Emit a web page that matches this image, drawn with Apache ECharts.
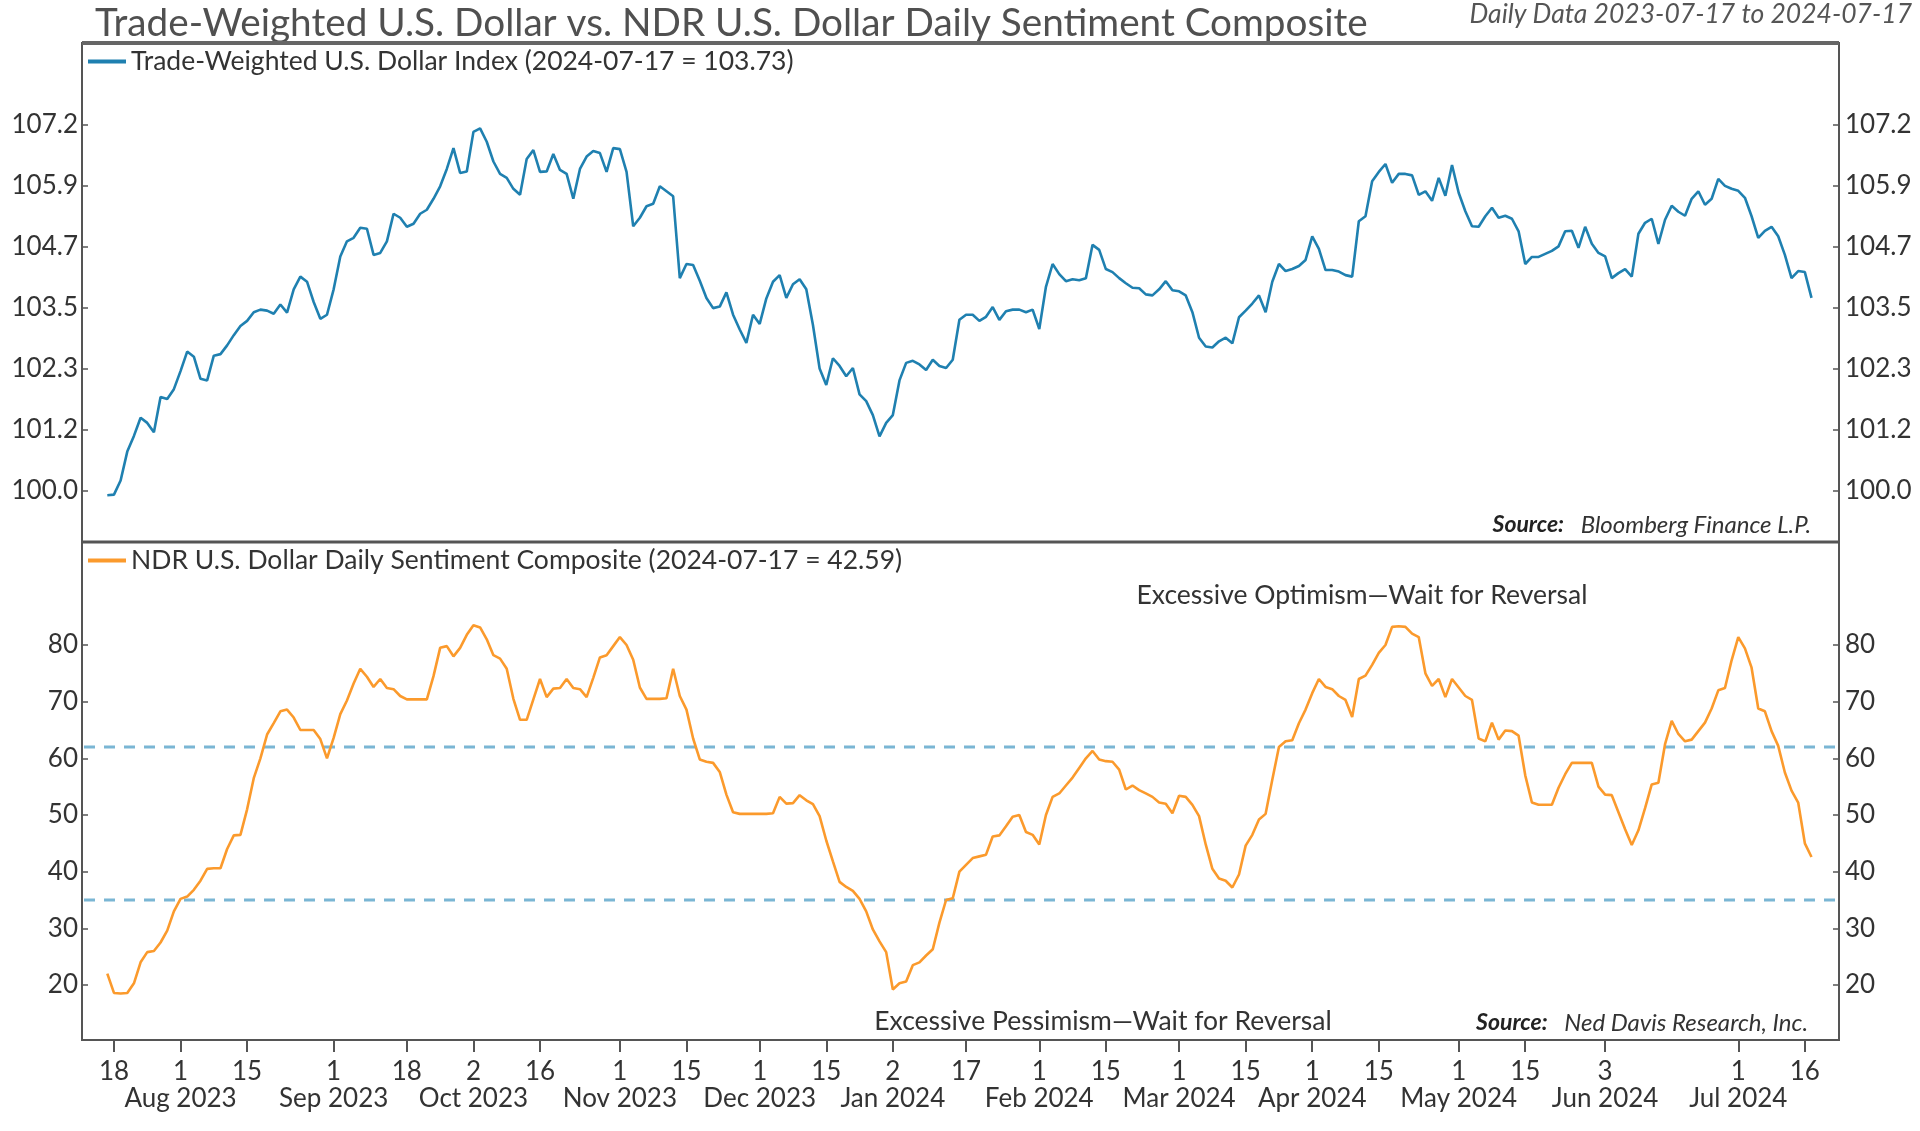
<!DOCTYPE html>
<html><head><meta charset="utf-8">
<script src="https://cdn.jsdelivr.net/npm/echarts@6/dist/echarts.min.js"></script>
<style>html,body{margin:0;padding:0;background:#fff}#c{width:1920px;height:1131px}</style>
</head><body><div id="c"></div><script>
// ---------- data ----------
const startDate = '2023-07-17';
const endDate = '2024-07-17';
const holidays = ['2023-11-23','2023-12-25','2024-01-01','2024-03-29','2024-05-27','2024-07-04'];
const tickDates = ['2023-07-18','2023-08-01','2023-08-15','2023-09-01','2023-09-18','2023-10-02','2023-10-16','2023-11-01','2023-11-15','2023-12-01','2023-12-15','2024-01-02','2024-01-17','2024-02-01','2024-02-15','2024-03-01','2024-03-15','2024-04-01','2024-04-15','2024-05-01','2024-05-15','2024-06-03','2024-07-01','2024-07-16'];
const monthTickDates = ['2023-08-01','2023-09-01','2023-10-02','2023-11-01','2023-12-01','2024-01-02','2024-02-01','2024-03-01','2024-04-01','2024-05-01','2024-06-03','2024-07-01'];
const monthNames = ['Jan','Feb','Mar','Apr','May','Jun','Jul','Aug','Sep','Oct','Nov','Dec'];
const dollarIndex = [
99.92,99.93,100.20,100.75,101.05,101.40,101.30,101.12,101.80,101.76,
101.95,102.30,102.68,102.58,102.15,102.12,102.60,102.63,102.80,103.00,
103.18,103.28,103.45,103.50,103.48,103.42,103.60,103.44,103.90,104.15,
104.05,103.65,103.32,103.40,103.90,104.55,104.85,104.92,105.12,105.10,
104.58,104.62,104.85,105.40,105.32,105.14,105.20,105.40,105.48,105.70,
105.95,106.30,106.72,106.22,106.25,107.05,107.12,106.85,106.45,106.20,
106.12,105.90,105.78,106.50,106.68,106.24,106.25,106.60,106.28,106.20,
105.70,106.30,106.55,106.66,106.62,106.24,106.72,106.70,106.24,105.15,
105.32,105.55,105.60,105.95,105.85,105.75,104.12,104.40,104.38,104.07,
103.73,103.53,103.56,103.84,103.40,103.11,102.85,103.40,103.22,103.72,
104.05,104.18,103.73,104.00,104.10,103.90,103.20,102.35,102.03,102.55,
102.40,102.20,102.36,101.85,101.72,101.45,101.04,101.30,101.45,102.12,
102.46,102.50,102.43,102.32,102.52,102.40,102.36,102.52,103.30,103.40,
103.40,103.28,103.36,103.55,103.30,103.47,103.50,103.50,103.45,103.50,
103.12,103.95,104.40,104.20,104.06,104.10,104.08,104.12,104.78,104.68,
104.30,104.24,104.12,104.02,103.93,103.92,103.80,103.78,103.90,104.06,
103.88,103.86,103.78,103.45,102.95,102.78,102.76,102.88,102.95,102.84,
103.35,103.48,103.62,103.78,103.45,104.05,104.40,104.26,104.30,104.36,
104.48,104.95,104.70,104.28,104.28,104.25,104.18,104.15,105.25,105.35,
106.05,106.24,106.40,106.02,106.20,106.20,106.17,105.78,105.85,105.66,
106.12,105.76,106.38,105.82,105.45,105.15,105.14,105.35,105.52,105.32,
105.36,105.30,105.05,104.40,104.54,104.54,104.60,104.66,104.75,105.05,
105.06,104.72,105.14,104.80,104.62,104.55,104.12,104.22,104.30,104.15,
105.00,105.22,105.30,104.80,105.28,105.56,105.44,105.36,105.70,105.85,
105.58,105.70,106.10,105.96,105.90,105.86,105.72,105.35,104.92,105.06,
105.14,104.95,104.58,104.12,104.26,104.24,103.73];
const sentiment = [
22.0,18.6,18.5,18.6,20.3,24.0,25.8,26.0,27.5,29.6,
33.0,35.2,35.6,36.8,38.4,40.5,40.6,40.6,44.0,46.4,
46.5,51.0,56.5,60.0,64.2,66.2,68.3,68.6,67.2,65.0,
65.0,65.0,63.4,60.0,63.6,67.8,70.2,73.2,75.8,74.4,
72.6,74.0,72.4,72.2,71.0,70.4,70.4,70.4,70.4,74.5,
79.5,79.8,78.0,79.5,81.8,83.5,83.1,81.0,78.2,77.6,
75.8,70.5,66.8,66.8,70.4,74.0,70.8,72.3,72.4,74.0,
72.4,72.2,70.8,74.2,77.8,78.2,79.8,81.4,80.0,77.4,
72.5,70.5,70.5,70.5,70.6,75.8,71.0,68.6,63.5,59.8,
59.4,59.2,57.6,53.6,50.5,50.2,50.2,50.2,50.2,50.2,
50.3,53.2,52.0,52.1,53.5,52.6,51.9,49.8,45.5,41.8,
38.2,37.3,36.6,35.2,33.0,29.8,27.7,25.8,19.2,20.3,
20.6,23.5,24.0,25.2,26.3,31.0,35.0,35.3,40.0,41.2,
42.4,42.7,43.0,46.2,46.4,48.0,49.7,50.0,47.0,46.5,
44.8,50.0,53.2,53.8,55.2,56.6,58.3,60.0,61.3,59.8,
59.5,59.4,58.0,54.5,55.2,54.4,53.8,53.2,52.2,52.0,
50.3,53.4,53.2,51.8,49.8,44.8,40.5,38.8,38.4,37.2,
39.5,44.6,46.5,49.2,50.2,56.2,62.0,63.0,63.2,66.2,
68.6,71.5,74.0,72.6,72.2,71.0,70.3,67.3,74.0,74.6,
76.5,78.6,80.0,83.2,83.3,83.2,82.0,81.4,75.0,72.8,
74.0,70.8,74.0,72.5,71.0,70.3,63.5,63.0,66.3,63.3,
64.9,64.8,64.0,57.0,52.2,51.8,51.8,51.8,54.8,57.2,
59.2,59.2,59.2,59.2,55.0,53.6,53.5,50.5,47.5,44.7,
47.3,51.2,55.4,55.7,62.5,66.6,64.3,63.0,63.3,64.8,
66.3,68.8,72.0,72.4,77.3,81.4,79.4,76.0,68.8,68.3,
64.8,62.2,57.5,54.3,52.2,45.0,42.59];
const topTickLabels = ['100.0','101.2','102.3','103.5','104.7','105.9','107.2'];
const thresholds = [62, 35];

// ---------- build categories (trading days) ----------
function fmt(d){return d.toISOString().slice(0,10);}
const dates = [];
(function(){
  const s = new Date(startDate+'T00:00:00Z'), e = new Date(endDate+'T00:00:00Z');
  for (let d = new Date(s); d <= e; d.setUTCDate(d.getUTCDate()+1)) {
    const wd = d.getUTCDay();
    const k = fmt(d);
    if (wd === 0 || wd === 6 || holidays.indexOf(k) >= 0) continue;
    dates.push(k);
  }
})();
const tickSet = new Set(tickDates);
const monthSet = new Set(monthTickDates);

const FONT = 'Lato';
const TXT = '#333';
const BLUE = '#1f80b0';
const ORANGE = '#fb9a2c';
const DASH = '#7ab6d4';
const FS = 26;
const FSL = 26.5;

// log axis: 100 is an exact power of the base, each tick = one power step
const LOG_BASE = Math.pow(100, 1/398);
const K0 = 398;
function topLabel(v){
  const k = Math.log(v)/Math.log(LOG_BASE) - K0;
  const r = Math.round(k);
  if (Math.abs(k - r) > 1e-4 || r < 0 || r >= topTickLabels.length) return '';
  return topTickLabels[r];
}

const G_LEFT = 107.3, G_RIGHT = 1920 - 1811.5;
const BOX_L = 82, BOX_R = 1839, BOX_T = 43, BOX_MID = 542, BOX_B = 1040;
const TOP_T = 125, TOP_H = 366, BOT_T = 645, BOT_H = 340;

const chart = echarts.init(document.getElementById('c'), null, {renderer:'canvas'});
const lastIdx = dates.length - 1;

const srcRich = {
  b: {fontFamily: FONT, fontSize: 23, fontWeight: 'bold', fontStyle: 'italic', fill: '#222'},
  i: {fontFamily: FONT, fontSize: 24, fontStyle: 'italic', fill: '#333'}
};

const option = {
  animation: false,
  backgroundColor: '#fff',
  textStyle: {fontFamily: FONT},
  title: [
    {text: 'Trade-Weighted U.S. Dollar vs. NDR U.S. Dollar Daily Sentiment Composite', left: 95, top: 4,
     padding: 0, textStyle: {fontFamily: FONT, fontSize: 38.7, fontWeight: 'normal', color: '#505050'}},
    {text: 'Daily Data ' + startDate + ' to ' + endDate, right: 8, top: 1, padding: 0,
     textStyle: {fontFamily: FONT, fontSize: 26.5, fontWeight: 'normal', fontStyle: 'italic', color: '#555'}}
  ],
  legend: [
    {data: ['Trade-Weighted U.S. Dollar Index'], left: 88, top: 48, padding: 0, icon: 'rect',
     itemWidth: 38, itemHeight: 4, selectedMode: false,
     textStyle: {fontFamily: FONT, fontSize: FSL, color: TXT},
     formatter: n => n + ' (' + dates[lastIdx] + ' = ' + dollarIndex[dollarIndex.length-1].toFixed(2) + ')'},
    {data: ['NDR U.S. Dollar Daily Sentiment Composite'], left: 88, top: 547, padding: 0, icon: 'rect',
     itemWidth: 38, itemHeight: 4, selectedMode: false,
     textStyle: {fontFamily: FONT, fontSize: FSL, color: TXT},
     formatter: n => n + ' (' + dates[lastIdx] + ' = ' + sentiment[sentiment.length-1].toFixed(2) + ')'}
  ],
  grid: [
    {left: G_LEFT, right: G_RIGHT, top: TOP_T, height: TOP_H},
    {left: G_LEFT, right: G_RIGHT, top: BOT_T, height: BOT_H},
    {left: BOX_L + 2, right: 1920 - BOX_R + 2, top: BOT_T, height: BOT_H}
  ],
  xAxis: [
    {type: 'category', gridIndex: 0, data: dates, boundaryGap: false, show: false},
    // day-of-month ticks and labels
    {type: 'category', gridIndex: 1, data: dates, boundaryGap: false, position: 'bottom',
     offset: BOX_B - (BOT_T + BOT_H),
     axisLine: {show: false},
     axisTick: {show: true, inside: false, length: 12, interval: (i, v) => tickSet.has(v),
                lineStyle: {color: '#555', width: 2}},
     axisLabel: {interval: (i, v) => tickSet.has(v), margin: 18, fontFamily: FONT, fontSize: FS,
                 color: TXT, lineHeight: 28, showMinLabel: true, showMaxLabel: true,
                 formatter: v => String(new Date(v+'T00:00:00Z').getUTCDate())},
     splitLine: {show: false}},
    {type: 'value', gridIndex: 2, min: 0, max: 1, show: false},
    // month labels (second row)
    {type: 'category', gridIndex: 1, data: dates, boundaryGap: false, position: 'bottom',
     offset: BOX_B - (BOT_T + BOT_H),
     axisLine: {show: false}, axisTick: {show: false}, splitLine: {show: false},
     axisLabel: {interval: (i, v) => monthSet.has(v), margin: 45, fontFamily: FONT, fontSize: FS,
                 color: TXT, lineHeight: 28, showMinLabel: true, showMaxLabel: true,
                 formatter: v => {
                   const d = new Date(v+'T00:00:00Z');
                   return monthNames[d.getUTCMonth()] + ' ' + d.getUTCFullYear();
                 }}}
  ],
  yAxis: [
    {type: 'log', logBase: LOG_BASE, gridIndex: 0, position: 'left', offset: G_LEFT - BOX_L,
     min: Math.pow(LOG_BASE, K0 - 0.0005), max: Math.pow(LOG_BASE, K0 + 6.0005), splitNumber: 6,
     axisLine: {show: false}, splitLine: {show: false},
     axisTick: {show: true, inside: true, length: 6, lineStyle: {color: '#555', width: 1.5}},
     axisLabel: {margin: 4, fontFamily: FONT, fontSize: FS, color: TXT, formatter: topLabel}},
    {type: 'log', logBase: LOG_BASE, gridIndex: 0, position: 'right', offset: BOX_R - (1920 - G_RIGHT),
     min: Math.pow(LOG_BASE, K0 - 0.0005), max: Math.pow(LOG_BASE, K0 + 6.0005), splitNumber: 6,
     axisLine: {show: false}, splitLine: {show: false},
     axisTick: {show: true, inside: true, length: 6, lineStyle: {color: '#555', width: 1.5}},
     axisLabel: {margin: 6, fontFamily: FONT, fontSize: FS, color: TXT, formatter: topLabel}},
    {type: 'value', gridIndex: 1, position: 'left', offset: G_LEFT - BOX_L, min: 20, max: 80, interval: 10,
     axisLine: {show: false}, splitLine: {show: false},
     axisTick: {show: true, inside: true, length: 6, lineStyle: {color: '#555', width: 1.5}},
     axisLabel: {margin: 4, fontFamily: FONT, fontSize: FS, color: TXT}},
    {type: 'value', gridIndex: 1, position: 'right', offset: BOX_R - (1920 - G_RIGHT), min: 20, max: 80, interval: 10,
     axisLine: {show: false}, splitLine: {show: false},
     axisTick: {show: true, inside: true, length: 6, lineStyle: {color: '#555', width: 1.5}},
     axisLabel: {margin: 6, fontFamily: FONT, fontSize: FS, color: TXT}},
    {type: 'value', gridIndex: 2, min: 20, max: 80, show: false}
  ],
  series: [
    ...thresholds.map((t, k) => ({
      type: 'line', name: 'threshold' + k, xAxisIndex: 2, yAxisIndex: 4, silent: true, z: 1,
      symbol: 'none', data: [[0, t], [1, t]],
      lineStyle: {color: DASH, width: 3, type: [11, 9]}
    })),
    {type: 'line', name: 'Trade-Weighted U.S. Dollar Index', xAxisIndex: 0, yAxisIndex: 0,
     data: dollarIndex, showSymbol: false, symbol: 'none', clip: false, z: 3,
     itemStyle: {color: BLUE}, lineStyle: {color: BLUE, width: 2.6}},
    {type: 'line', name: 'NDR U.S. Dollar Daily Sentiment Composite', xAxisIndex: 1, yAxisIndex: 2,
     data: sentiment, showSymbol: false, symbol: 'none', clip: false, z: 3,
     itemStyle: {color: ORANGE}, lineStyle: {color: ORANGE, width: 2.6}}
  ],
  graphic: [
    {type: 'rect', shape: {x: BOX_L, y: BOX_T, width: BOX_R - BOX_L, height: BOX_B - BOX_T},
     style: {fill: 'none', stroke: '#555', lineWidth: 2}, silent: true, z: 10},
    {type: 'line', shape: {x1: BOX_L, y1: BOX_T, x2: BOX_R, y2: BOX_T},
     style: {stroke: '#666', lineWidth: 4}, silent: true, z: 10},
    {type: 'line', shape: {x1: BOX_L, y1: BOX_MID, x2: BOX_R, y2: BOX_MID},
     style: {stroke: '#555', lineWidth: 3}, silent: true, z: 10},
    {type: 'text', x: 1362, y: 595, silent: true, z: 10,
     style: {text: 'Excessive Optimism\u2014Wait for Reversal', fill: TXT, font: FSL + 'px Lato',
             textAlign: 'center', textVerticalAlign: 'middle'}},
    {type: 'text', x: 1103, y: 1021, silent: true, z: 10,
     style: {text: 'Excessive Pessimism\u2014Wait for Reversal', fill: TXT, font: FSL + 'px Lato',
             textAlign: 'center', textVerticalAlign: 'middle'}},
    {type: 'text', x: 1811, y: 525, silent: true, z: 10,
     style: {text: '{b|Source:}     {i|Bloomberg Finance L.P.}', textAlign: 'right', textVerticalAlign: 'middle',
             rich: srcRich}},
    {type: 'text', x: 1808, y: 1023, silent: true, z: 10,
     style: {text: '{b|Source:}     {i|Ned Davis Research, Inc.}', textAlign: 'right', textVerticalAlign: 'middle',
             rich: srcRich}}
  ]
};
chart.setOption(option);
</script></body></html>
